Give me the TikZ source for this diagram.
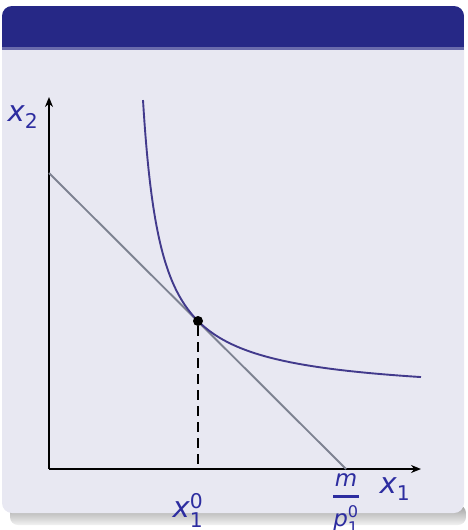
\documentclass[tikz,border=0pt]{standalone}
\usepackage{amsmath}
\usepackage{fontspec}
\setmainfont{DejaVu Sans}
\usetikzlibrary{arrows.meta}
\definecolor{titlebg}{RGB}{38,40,134}
\definecolor{bodybg}{RGB}{232,232,242}
\definecolor{lblblue}{RGB}{45,45,160}
\definecolor{curvecol}{RGB}{66,58,140}
\definecolor{budgetcol}{RGB}{125,130,145}
\tikzset{
  axis/.style={line width=2.6pt, -{Stealth[length=10pt,width=8pt]}},
  lbl/.style={text=lblblue, font=\fontsize{29}{35}\selectfont, inner sep=0pt},
  fraclbl/.style={text=lblblue, font=\fontsize{23}{28}\selectfont, inner sep=0pt},
  budget/.style={budgetcol, line width=1.9pt},
  icurve/.style={curvecol, line width=1.9pt},
  dashline/.style={line width=2.5pt, dash pattern=on 10pt off 6pt},
}
\begin{document}
\begin{tikzpicture}[x=1pt,y=-1pt]
\useasboundingbox (0,0) rectangle (467,530);
% block shadow
\shade[top color=gray!75, bottom color=white!90!gray, rounded corners=8pt] (10,505) rectangle (466,525);
\fill[bodybg, rounded corners=10pt] (2,6) rectangle (464,513);
\begin{scope}
\clip[rounded corners=10pt] (2,6) rectangle (464,60);
\fill[titlebg] (2,6) rectangle (464,48);
\end{scope}
\fill[titlebg!65!bodybg] (2,47) rectangle (464,49.5);
% axes
\coordinate (O) at (49,469);
\coordinate (Ytop) at (49,97);
\coordinate (Xend) at (421,469);
\draw[axis] (O) -- (Ytop);
\draw[axis] (O) -- (Xend);
% budget line
\coordinate (B1) at (49,173);
\coordinate (B2) at (346,469);
\draw[budget] (B1) -- (B2);
% indifference curve
\draw[icurve] plot[domain=143:421, samples=400, smooth] (\x, {397-4430/((\x-125.8)^0.95)});
% tangency point
\node[circle, fill=black, inner sep=0pt, minimum size=10pt] (P) at (198,321) {};
\coordinate (PX) at (198,469);
\draw[dashline] (P) -- (PX);
% labels
\node[lbl] (lx2) at (23,117) {$\textit{x}_{\text{2}}$};
\node[lbl] (lx1) at (395,489) {$\textit{x}_{\text{1}}$};
\node[lbl] (lx10) at (188,510) {$\textit{x}_{\text{1}}^{\text{0}}$};
\node[fraclbl, anchor=north] (lmp) at (346,473) {$\genfrac{}{}{2.6pt}{0}{\textit{m}}{\textit{p}_{\text{1}}^{\text{0}}}$};
\end{tikzpicture}
\end{document}
